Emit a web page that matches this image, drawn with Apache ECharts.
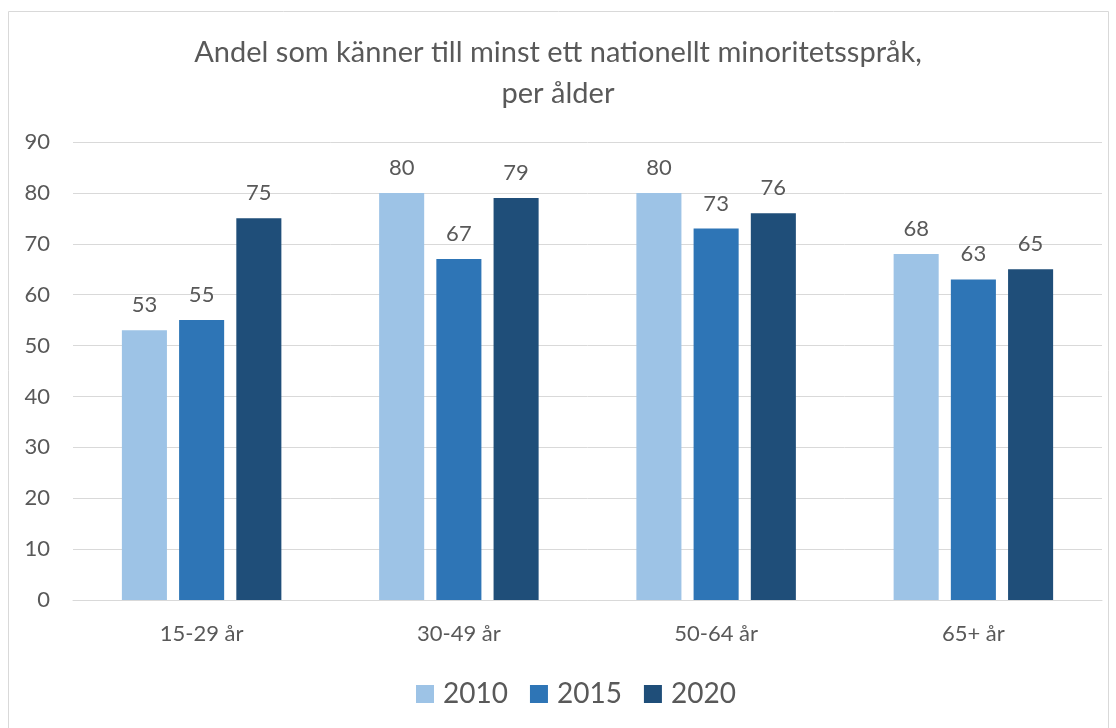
<!DOCTYPE html>
<html>
<head>
<meta charset="utf-8">
<script src="https://cdn.jsdelivr.net/npm/echarts@6/dist/echarts.min.js"></script>
<style>
  html, body { margin: 0; padding: 0; background: #fff; }
  #chart { width: 1116px; height: 728px; }
</style>
</head>
<body>
<div id="chart"></div>
<script>
var categories = ['15-29 år', '30-49 år', '50-64 år', '65+ år'];
var years = ['2010', '2015', '2020'];
var values2010 = [53, 80, 80, 68];
var values2015 = [55, 67, 73, 63];
var values2020 = [75, 79, 76, 65];
var colors = ['#9DC3E6', '#2E75B6', '#1F4E79'];

var font = 'Lato, "Noto Sans", sans-serif';
var textColor = '#595959';

function makeSeries(name, data, color) {
    return {
        name: name,
        type: 'bar',
        data: data,
        barCategoryGap: '38%',
        barGap: '27%',
        itemStyle: { color: color },
        label: {
            show: true,
            position: 'top',
            distance: 14,
            color: textColor,
            fontFamily: font,
            fontSize: 22
        }
    };
}

var chart = echarts.init(document.getElementById('chart'));
chart.setOption({
    animation: false,
    textStyle: { fontFamily: font },
    graphic: [{
        type: 'rect',
        shape: { x: 8.5, y: 11.5, width: 1100, height: 730 },
        style: { fill: 'none', stroke: '#D9D9D9', lineWidth: 1 },
        silent: true
    }],
    title: {
        text: 'Andel som känner till minst ett nationellt minoritetsspråk,\nper ålder',
        left: 'center',
        top: 27,
        textStyle: {
            color: textColor,
            fontFamily: font,
            fontSize: 29,
            fontWeight: 'normal',
            lineHeight: 41
        }
    },
    legend: {
        bottom: 15,
        left: 411,
        itemWidth: 18,
        itemHeight: 18,
        itemGap: 22,
        icon: 'rect',
        textStyle: { color: textColor, fontSize: 28, fontFamily: font, padding: [0, 0, 0, 4] },
        data: years
    },
    grid: {
        left: 73,
        right: 14,
        top: 142,
        bottom: 128,
        containLabel: false
    },
    xAxis: {
        type: 'category',
        data: categories,
        axisLine: { lineStyle: { color: '#D9D9D9' } },
        axisTick: { show: false },
        axisLabel: { color: textColor, fontSize: 22, fontFamily: font, margin: 23 }
    },
    yAxis: {
        type: 'value',
        min: 0,
        max: 90,
        interval: 10,
        axisLine: { show: false },
        axisTick: { show: false },
        splitLine: { lineStyle: { color: '#D9D9D9' } },
        axisLabel: { color: textColor, fontSize: 22, fontFamily: font, margin: 23 }
    },
    series: [
        makeSeries(years[0], values2010, colors[0]),
        makeSeries(years[1], values2015, colors[1]),
        makeSeries(years[2], values2020, colors[2])
    ]
});
</script>
</body>
</html>
